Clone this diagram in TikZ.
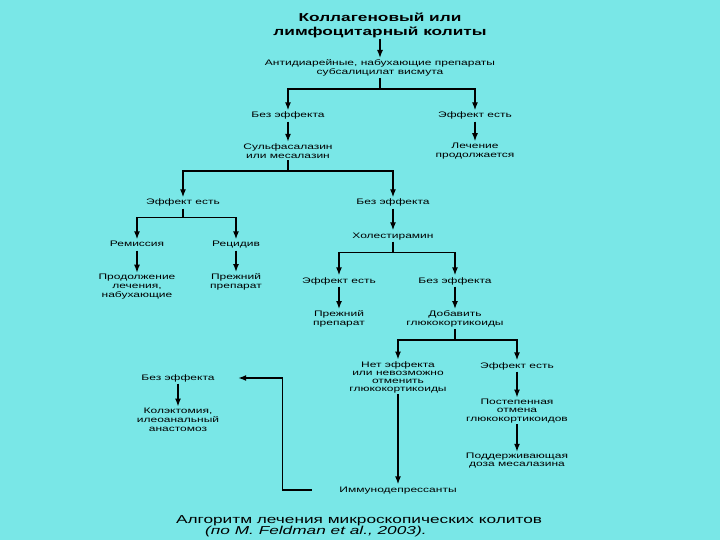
\documentclass[tikz,border=0pt]{standalone}
\usepackage{fontspec}
\setmainfont[FakeStretch=1.5]{Liberation Sans}
\usetikzlibrary{arrows.meta}
\definecolor{bg}{RGB}{121,231,231}
\begin{document}
\begin{tikzpicture}[x=1pt,y=-1pt,
  lab/.style={align=center,inner sep=1.5pt,font=\fontsize{8}{9}\selectfont},
  one/.style={lab,text height=6pt,text depth=2pt},
  ttl/.style={align=center,inner sep=1.5pt,font=\fontsize{11.5}{14}\selectfont\bfseries},
  captxt/.style={inner sep=0pt,font=\fontsize{11.5}{12}\selectfont},
  conn/.style={line width=1.4pt,black},
  arr/.style={conn,-{Latex[width=6pt,length=8pt]}}]
\fill[bg] (0,0) rectangle (720,540);
\useasboundingbox (0,0) rectangle (720,540);
% nodes
\node[ttl] (title) at (380,25) {Коллагеновый или\\лимфоцитарный колиты};
\node[lab] (anti) at (380,68) {Антидиарейные, набухающие препараты\\субсалицилат висмута};
\node[one] (n1) at (288,116) {Без эффекта};
\node[one] (n2) at (475,116) {Эффект есть};
\node[lab] (sulfa) at (288,151) {Сульфасалазин\\или месалазин};
\node[lab] (lech) at (475,151) {Лечение\\продолжается};
\node[one] (e3) at (183,203) {Эффект есть};
\node[one] (b3) at (393,203) {Без эффекта};
\node[one] (rem) at (137,245) {Ремиссия};
\node[one] (rec) at (236,245) {Рецидив};
\node[lab] (prod) at (137,287) {Продолжение\\лечения,\\набухающие};
\node[lab] (prezh1) at (236,282) {Прежний\\препарат};
\node[one] (chol) at (393,236) {Холестирамин};
\node[one] (e4) at (339,281) {Эффект есть};
\node[one] (b4) at (455,281) {Без эффекта};
\node[lab] (prezh2) at (339,319) {Прежний\\препарат};
\node[lab] (dobav) at (455,319) {Добавить\\глюкокортикоиды};
\node[lab,font=\fontsize{8}{8}\selectfont] (net) at (398,377) {Нет эффекта\\или невозможно\\отменить\\глюкокортикоиды};
\node[one] (e5) at (517,366) {Эффект есть};
\node[lab,font=\fontsize{8}{8.2}\selectfont] (post) at (517,411) {Постепенная\\отмена\\глюкокортикоидов};
\node[lab,font=\fontsize{8}{8}\selectfont] (podd) at (517,461) {Поддерживающая\\доза месалазина};
\node[one] (bez6) at (178,378) {Без эффекта};
\node[lab] (kol) at (178,420) {Колэктомия,\\илеоанальный\\анастомоз};
\node[one] (immuno) at (398,490) {Иммунодепрессанты};
\node[captxt] (cap1) at (359,521) {Алгоритм лечения микроскопических колитов};
\node[captxt,anchor=west,font=\fontsize{11.5}{12}\selectfont\itshape] (cap2) at (205,532) {(по M. Feldman et al., 2003).};
% connectors
\draw[arr] (title) -- (anti);
\draw[conn] (anti.south) -- ++(0,11) coordinate (j1);
\draw[arr] (j1) -| (n1.north);
\draw[arr] (j1) -| (n2.north);
\draw[arr] (n1) -- (sulfa);
\draw[arr] (n2) -- (lech);
\draw[conn] (sulfa.south) -- ++(0,11) coordinate (j2);
\draw[arr] (j2) -| (e3.north);
\draw[arr] (j2) -| (b3.north);
\draw[conn] (e3.south) -- ++(0,9) coordinate (j3);
\draw[arr] (j3) -| (rem.north);
\draw[arr] (j3) -| (rec.north);
\draw[arr] (rem) -- (prod);
\draw[arr] (rec) -- (prezh1);
\draw[arr] (b3) -- (chol);
\draw[conn] (chol.south) -- ++(0,11) coordinate (j4);
\draw[arr] (j4) -| (e4.north);
\draw[arr] (j4) -| (b4.north);
\draw[arr] (e4) -- (prezh2);
\draw[arr] (b4) -- (dobav);
\draw[conn] (dobav.south) -- ++(0,11) coordinate (j5);
\draw[arr] (j5) -| (net.north);
\draw[arr] (j5) -| (e5.north);
\draw[arr] (e5) -- (post);
\draw[arr] (post) -- (podd);
\draw[arr] (net) -- (immuno);
\draw[arr] (bez6) -- (kol);
\draw[arr,shorten <=26pt,shorten >=22pt] (immuno.west) -- ++(-55,0) |- (bez6.east);
\end{tikzpicture}
\end{document}
